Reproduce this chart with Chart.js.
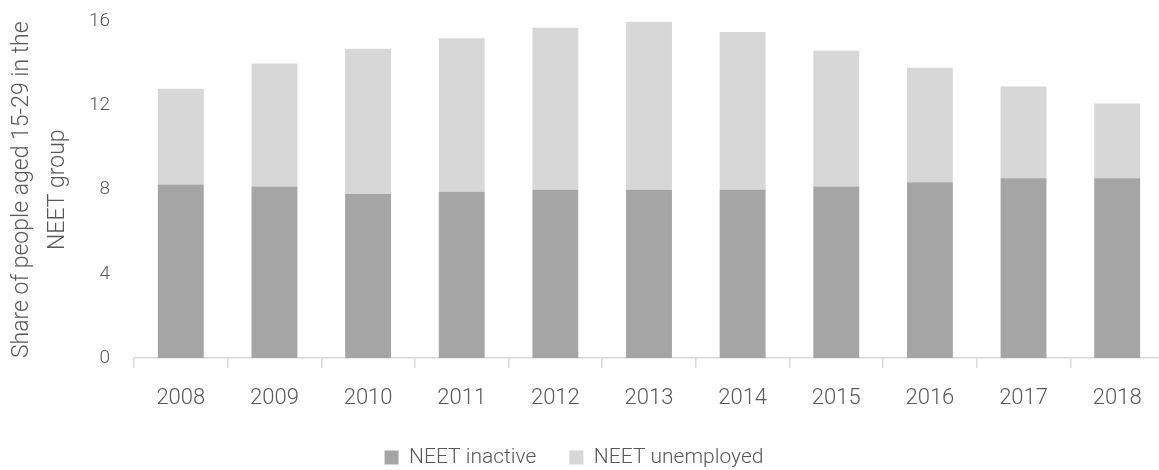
<!DOCTYPE html>
<html>
<head>
<meta charset="utf-8">
<script src="https://cdn.jsdelivr.net/npm/chart.js@4/dist/chart.umd.min.js"></script>
<style>
  html, body { margin: 0; padding: 0; background: #fff; overflow: hidden; }
  #wrap { width: 1164px; height: 492px; position: absolute; left: 0; top: -14px; }
</style>
</head>
<body>
<div id="wrap"><canvas id="neetChart"></canvas></div>
<script>
// Data
const years = ['2008', '2009', '2010', '2011', '2012', '2013', '2014', '2015', '2016', '2017', '2018'];
const neetInactive = [8.25, 8.15, 7.8, 7.9, 8.0, 8.0, 8.0, 8.15, 8.35, 8.55, 8.55];
const neetUnemployed = [4.55, 5.85, 6.9, 7.3, 7.7, 8.0, 7.5, 6.45, 5.45, 4.35, 3.55];
const yTicks = [0, 4, 8, 12, 16];

const textColor = '#595959';
const axisColor = '#d9d9d9';

// nudge the legend a little left, like the original
const legendShift = {
    id: 'legendShift',
    afterLayout(chart) {
        if (chart.legend) {
            chart.legend.left -= 8;
            chart.legend.right -= 8;
        }
    }
};

const ctx = document.getElementById('neetChart').getContext('2d');
const neetChart = new Chart(ctx, {
    type: 'bar',
    data: {
        labels: years,
        datasets: [
            {
                label: 'NEET inactive',
                data: neetInactive,
                backgroundColor: '#a5a5a5',
                borderWidth: 0
            },
            {
                label: 'NEET unemployed',
                data: neetUnemployed,
                backgroundColor: '#d7d7d7',
                borderWidth: 0
            }
        ]
    },
    plugins: [legendShift],
    options: {
        responsive: true,
        maintainAspectRatio: false,
        animation: false,
        layout: { padding: { top: 10, right: 0, bottom: 0, left: 0 } },
        datasets: {
            bar: { categoryPercentage: 1, barPercentage: 0.49 }
        },
        scales: {
            x: {
                stacked: true,
                grid: {
                    display: true,
                    drawOnChartArea: false,
                    drawTicks: true,
                    tickLength: 10,
                    color: axisColor,
                    lineWidth: 1.5
                },
                border: { display: true, color: axisColor, width: 1.5 },
                ticks: {
                    color: textColor,
                    padding: 17,
                    font: { family: 'Roboto', size: 22, weight: '300' }
                },
                afterFit: function(scale) { scale.height = 56; }
            },
            y: {
                stacked: true,
                min: 0,
                max: 16,
                afterBuildTicks: function(scale) {
                    scale.ticks = yTicks.map(v => ({ value: v }));
                },
                grid: { display: false, drawTicks: false },
                border: { display: false },
                ticks: {
                    color: textColor,
                    padding: 24,
                    font: { family: 'Roboto', size: 19, weight: '300' }
                },
                title: {
                    display: true,
                    text: ['Share of people aged 15-29 in the', 'NEET group'],
                    color: textColor,
                    padding: { top: 4, bottom: 0 },
                    font: { family: 'Roboto', size: 23, weight: '300', lineHeight: 1.565 }
                },
                afterFit: function(scale) { scale.width = 134; }
            }
        },
        plugins: {
            legend: {
                position: 'bottom',
                labels: {
                    color: textColor,
                    boxWidth: 14,
                    boxHeight: 14,
                    padding: 33,
                    font: { family: 'Roboto', size: 21, weight: '300' }
                }
            },
            tooltip: { enabled: false }
        }
    }
});
</script>
</body>
</html>
